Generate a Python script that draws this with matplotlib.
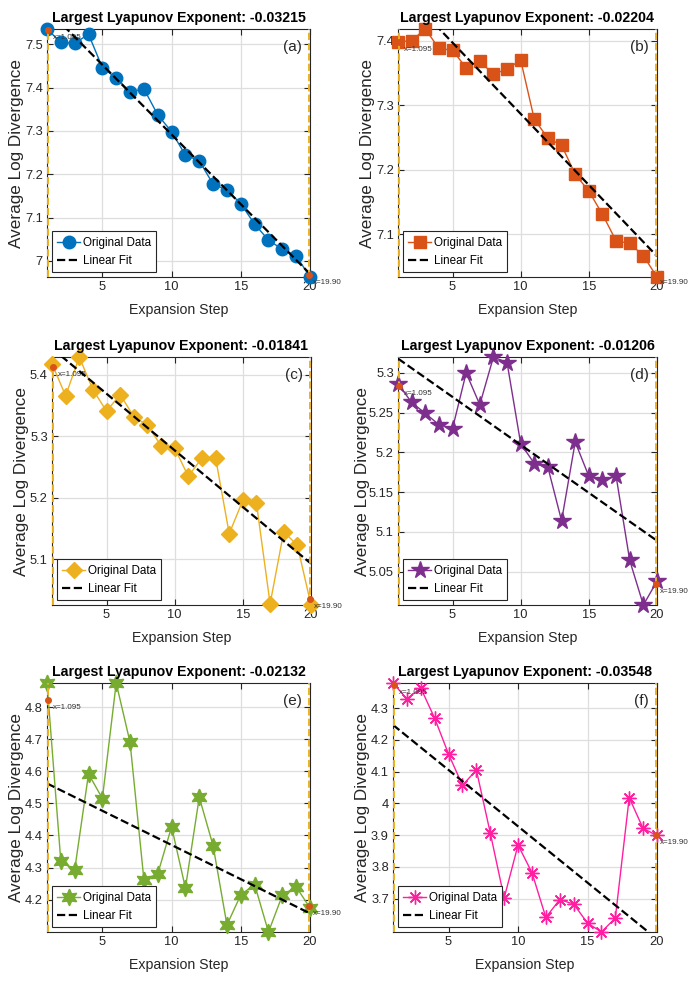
import matplotlib
matplotlib.use("Agg")
import matplotlib.pyplot as plt
import numpy as np

# fuentes: estilo MATLAB (Helvetica)
plt.rcParams['font.family'] = ['Liberation Sans', 'DejaVu Sans']

steps = np.arange(1, 21)

# datos (divergencia media logaritmica)
div_a = [7.535, 7.504, 7.502, 7.523, 7.446, 7.422, 7.390, 7.397, 7.337, 7.298,
         7.244, 7.231, 7.177, 7.164, 7.132, 7.085, 7.048, 7.027, 7.012, 6.963]
div_b = [7.398, 7.400, 7.418, 7.388, 7.385, 7.358, 7.368, 7.348, 7.356, 7.370,
         7.278, 7.249, 7.238, 7.193, 7.167, 7.131, 7.090, 7.086, 7.067, 7.034]
div_c = [5.418, 5.366, 5.429, 5.376, 5.341, 5.368, 5.332, 5.318, 5.285, 5.281,
         5.235, 5.265, 5.265, 5.142, 5.196, 5.191, 5.028, 5.145, 5.123, 5.026]
div_d = [5.286, 5.263, 5.249, 5.235, 5.230, 5.300, 5.260, 5.320, 5.313, 5.211,
         5.186, 5.181, 5.114, 5.213, 5.170, 5.165, 5.170, 5.064, 5.008, 5.038]
div_e = [4.875, 4.319, 4.293, 4.592, 4.515, 4.875, 4.690, 4.262, 4.280, 4.427,
         4.236, 4.519, 4.368, 4.121, 4.215, 4.247, 4.099, 4.213, 4.240, 4.174]
div_f = [4.379, 4.329, 4.363, 4.268, 4.155, 4.057, 4.105, 3.907, 3.702, 3.869,
         3.782, 3.641, 3.697, 3.683, 3.623, 3.595, 3.639, 4.018, 3.921, 3.899]

# exponentes (pendiente del ajuste) y valor del ajuste en x=1
lyap = [-0.03215, -0.02204, -0.01841, -0.01206, -0.02132, -0.03548]
fit_at_1 = [7.581, 7.485, 5.443, 5.318, 4.562, 4.247]

panel_tags = ['(a)', '(b)', '(c)', '(d)', '(e)', '(f)']
colors = ['#0072BD', '#D95319', '#EDB120', '#7E2F8E', '#77AC30', '#FF1FA0']
markers = ['o', 's', 'D', '*', (6, 1, 0), (8, 2, 0)]
msizes = [9, 8, 8.5, 13, 12, 10]
yticks_all = [
    [7.0, 7.1, 7.2, 7.3, 7.4, 7.5],
    [7.1, 7.2, 7.3, 7.4],
    [5.1, 5.2, 5.3, 5.4],
    [5.05, 5.1, 5.15, 5.2, 5.25, 5.3],
    [4.2, 4.3, 4.4, 4.5, 4.6, 4.7, 4.8],
    [3.7, 3.8, 3.9, 4.0, 4.1, 4.2, 4.3],
]
ytick_labels_all = [
    ['7', '7.1', '7.2', '7.3', '7.4', '7.5'],
    ['7.1', '7.2', '7.3', '7.4'],
    ['5.1', '5.2', '5.3', '5.4'],
    ['5.05', '5.1', '5.15', '5.2', '5.25', '5.3'],
    ['4.2', '4.3', '4.4', '4.5', '4.6', '4.7', '4.8'],
    ['3.7', '3.8', '3.9', '4', '4.1', '4.2', '4.3'],
]
marks_x = [1.095, 19.90]

# posiciones de los ejes en pixeles (izq, der, arriba, abajo)
W, H = 689, 983
boxes = [(47, 310, 29, 277), (398, 657, 29, 277),
         (52, 311, 357, 605), (398, 657, 357, 605),
         (47, 310, 683, 932), (393, 657, 683, 932)]

series = [div_a, div_b, div_c, div_d, div_e, div_f]

fig = plt.figure(figsize=(W / 100, H / 100), dpi=100)

for i in range(6):
    l, r, t, b = boxes[i]
    ax = fig.add_axes([l / W, 1 - b / H, (r - l) / W, (b - t) / H])
    y = np.array(series[i])

    ax.plot(steps, y, color=colors[i], marker=markers[i], ms=msizes[i],
            lw=1.0, clip_on=False, zorder=3, label='Original Data')
    fit = fit_at_1[i] + lyap[i] * (steps - 1)
    ax.plot(steps, fit, 'k--', lw=1.6, zorder=4, label='Linear Fit')

    # lineas verticales de referencia
    for xm in marks_x:
        ax.axvline(xm, color='#EDB120', ls='--', lw=1.4, zorder=5, clip_on=False)
        ym = np.interp(xm, steps, y)
        ax.plot(xm, ym, 'o', color='#D95319', ms=4, zorder=6, clip_on=False)
        ax.annotate(f'x={xm:.3f}' if xm < 10 else f'x={xm:.2f}', (xm, ym),
                    xytext=(3, -3), textcoords='offset points', fontsize=5.8,
                    color='#333333', ha='left', va='top', annotation_clip=False)

    ax.set_xlim(1, 20)
    ax.set_ylim(y.min(), y.max())
    ax.set_xticks([5, 10, 15, 20])
    ax.set_yticks(yticks_all[i])
    ax.set_yticklabels(ytick_labels_all[i])
    ax.tick_params(direction='in', top=True, right=True, length=4, width=0.8,
                   labelsize=9.3, colors='#262626', pad=3)
    ax.grid(True, color='#DEDEDE', lw=0.9)
    ax.set_axisbelow(True)
    for sp in ax.spines.values():
        sp.set_color('#262626')
        sp.set_linewidth(0.8)

    ax.set_title(f'Largest Lyapunov Exponent: {lyap[i]:.5f}', fontsize=10.2,
                 fontweight='bold', pad=5)
    ax.set_xlabel('Expansion Step', fontsize=10.2, color='#262626', labelpad=7)
    ax.set_ylabel('Average Log Divergence', fontsize=12.3, color='#262626')
    # etiquetas de 4 caracteres empujan el titulo del eje a la izquierda
    longest = max(len(s) for s in ytick_labels_all[i])
    off = 23 if longest <= 3 else 28
    ax.yaxis.set_label_coords(-off / (r - l), 0.5)
    ax.text(0.97, 0.955, panel_tags[i], transform=ax.transAxes, ha='right',
            va='top', fontsize=11, color='#262626')

    leg = ax.legend(loc='lower left', fontsize=8.4, frameon=True, fancybox=False,
                    edgecolor='#262626', framealpha=1, borderaxespad=0.4,
                    handlelength=2.0, handletextpad=0.2, labelspacing=0.55,
                    borderpad=0.45)
    leg.get_frame().set_linewidth(0.8)

fig.savefig('out.png', dpi=100)
